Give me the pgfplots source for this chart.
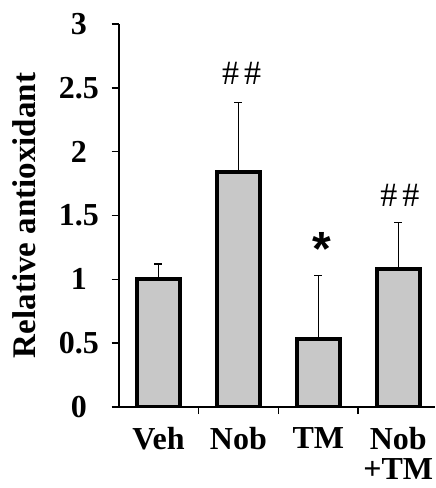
\documentclass[border=0pt]{standalone}
\usepackage{fontspec}
\setmainfont{Liberation Serif}
\newfontfamily\arialfont{Liberation Sans}
\usepackage{pgfplots}
\pgfplotsset{compat=1.18}
\definecolor{barfill}{RGB}{200,200,200}

\begin{document}
\begin{tikzpicture}
\begin{axis}[
  name=ax,
  width=316.5pt, height=383pt, scale only axis,
  xmin=-0.5, xmax=3.46, ymin=0, ymax=3,
  axis lines*=left,
  axis line style={line width=2pt},
  tick align=outside,
  major tick length=7pt,
  tick style={line width=1.6pt, black},
  ytick={0,0.5,1,1.5,2,2.5,3},
  yticklabels={0,0.5,1,1.5,2,2.5,3},
  yticklabel style={anchor=center, xshift=-32.5pt, inner sep=0pt},
  xtick={0.5,1.5,2.5,3.5},
  xticklabels={,,,},
  extra x ticks={0,1,2,3},
  extra x tick labels={Veh,Nob,TM,{Nob\\+TM}},
  extra x tick style={major tick length=0pt},
  xticklabel style={anchor=north, align=center, inner sep=0pt, yshift=-20pt},
  ticklabel style={font=\fontsize{32}{30}\selectfont\bfseries},
  ylabel={Relative antioxidant},
  ylabel style={at={(axis description cs:-0.297,0.5)}, anchor=center,
    font=\fontsize{33}{40}\selectfont\bfseries},
]
\addplot[ybar, bar width=43pt, fill=barfill, draw=black, line width=3.8pt,
  error bars/.cd, y dir=plus, y explicit,
  error bar style={line width=1.3pt, black},
  error mark options={line width=1.3pt, mark size=4pt, black, rotate=90}]
  table[x=x, y=y, y error=e] {
  x y e
  0 1.00 0.12
  1 1.84 0.545
  2 0.535 0.493
  3 1.083 0.363
};
\node[anchor=north, inner sep=0pt, font=\fontsize{34}{38}\selectfont] at (axis cs:1.04,2.70) {\#\hspace{5pt}\#};
\node[anchor=north, inner sep=0pt, font=\fontsize{34}{38}\selectfont] at (axis cs:3.02,1.75) {\#\hspace{5pt}\#};
\node[anchor=north, inner sep=0pt, font=\arialfont\bfseries\fontsize{48}{50}\selectfont] at (axis cs:2.04,1.37) {*};
\end{axis}
\pgfresetboundingbox
\path[use as bounding box] ([shift={(-118.5pt,-81pt)}]ax.south west) rectangle ([shift={(0pt,24pt)}]ax.north east);
\end{tikzpicture}
\end{document}
